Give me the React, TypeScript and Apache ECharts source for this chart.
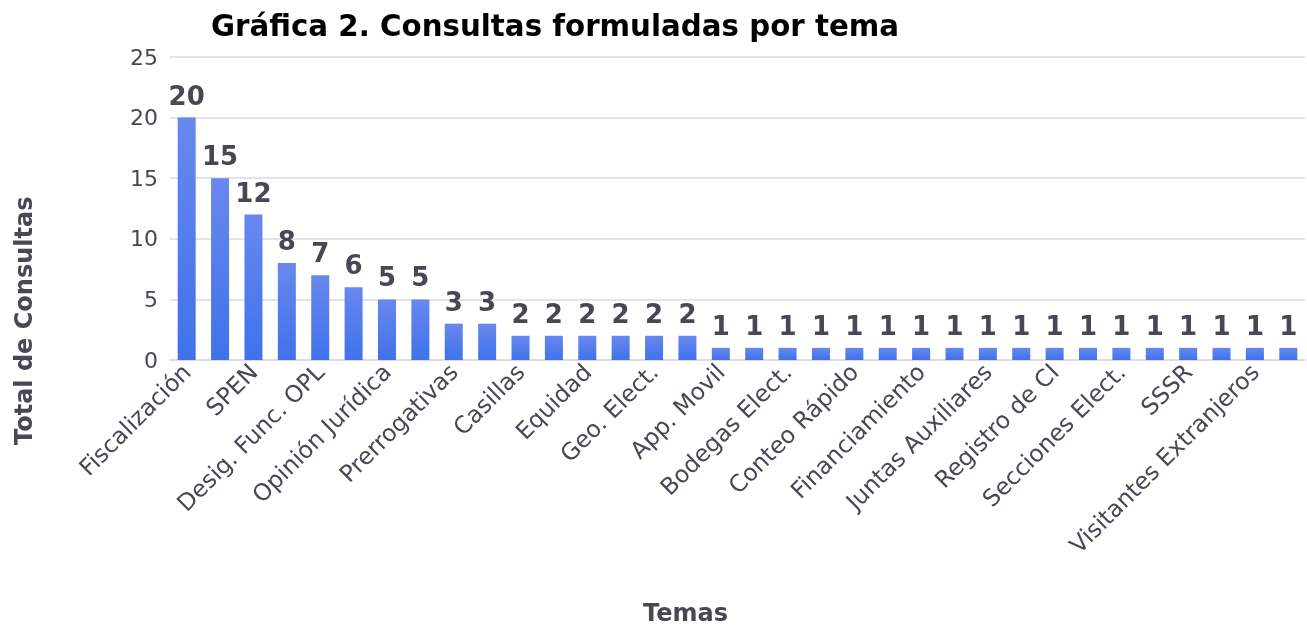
import React, { useEffect, useRef } from "react";
import * as echarts from "echarts";

const categories = [
  "Fiscalización", "Organización Electoral", "SPEN", "Capacitación", "Desig. Func. OPL",
  "Consejeros OPL", "Opinión Jurídica", "Paridad de Género", "Prerrogativas", "Registro de Partidos",
  "Casillas", "Documentación", "Equidad", "Fiscales", "Geo. Elect.", "Observadores",
  "App. Movil", "Asociaciones", "Bodegas Elect.", "Candidaturas", "Conteo Rápido", "Debates",
  "Financiamiento", "Impugnaciones", "Juntas Auxiliares", "Plebiscitos", "Registro de CI",
  "Resultados", "Secciones Elect.", "Sistema PREP", "SSSR", "Urnas Electrónicas",
  "Visitantes Extranjeros", "Voto en el Extranjero",
];
const values = [
  20, 15, 12, 8, 7, 6, 5, 5, 3, 3, 2, 2, 2, 2, 2, 2,
  1, 1, 1, 1, 1, 1, 1, 1, 1, 1, 1, 1, 1, 1, 1, 1, 1, 1,
];
const yTicks = { min: 0, max: 25, interval: 5 };
const title = "Gráfica 2. Consultas formuladas por tema";
const xName = "Temas";
const yName = "Total de Consultas";

const FONT = "DejaVu Sans";
const TXT = "#474756";

export default function App() {
  const ref = useRef<HTMLDivElement>(null);
  useEffect(() => {
    const chart = echarts.init(ref.current!, null, { renderer: "svg" });
    chart.setOption({
      animation: false,
      textStyle: { fontFamily: FONT },
      title: {
        text: title,
        left: 206,
        top: 6,
        textStyle: { fontFamily: FONT, fontSize: 29.3, fontWeight: "bold", color: "#000" },
      },
      grid: { left: 170, right: 2, top: 57, bottom: 270, containLabel: false },
      xAxis: {
        type: "category",
        data: categories,
        axisLine: { show: true, lineStyle: { color: "#dcdce2", width: 2 } },
        axisTick: { show: false },
        axisLabel: {
          interval: 1,
          rotate: 45,
          fontSize: 23.5,
          color: TXT,
          fontFamily: FONT,
          margin: 8,
        },
      },
      yAxis: {
        type: "value",
        min: yTicks.min,
        max: yTicks.max,
        interval: yTicks.interval,
        axisLine: { show: false },
        axisTick: { show: false },
        splitLine: { lineStyle: { color: "#e3e3e8", width: 2 } },
        axisLabel: { fontSize: 22, color: TXT, fontFamily: FONT, margin: 12 },
      },
      graphic: [
        {
          type: "text",
          left: 643,
          top: 601,
          style: { text: xName, fontSize: 24, fontWeight: "bold", fill: TXT, fontFamily: FONT },
        },
        {
          type: "text",
          x: 12,
          y: 445,
          rotation: Math.PI / 2,
          style: { text: yName, fontSize: 24, fontWeight: "bold", fill: TXT, fontFamily: FONT },
        },
      ],
      series: [
        {
          type: "bar",
          data: values,
          barWidth: 18,
          itemStyle: {
            color: new echarts.graphic.LinearGradient(0, 0, 0, 1, [
              { offset: 0, color: "#6888ee" },
              { offset: 1, color: "#3f72eb" },
            ]),
          },
          label: {
            show: true,
            position: "top",
            distance: 9,
            fontSize: 26,
            fontWeight: "bold",
            color: TXT,
            fontFamily: FONT,
          },
        },
      ],
    });
    return () => chart.dispose();
  }, []);
  return (
    <div
      ref={ref}
      style={{ position: "fixed", left: 0, top: 0, width: 1307, height: 630 }}
    />
  );
}
